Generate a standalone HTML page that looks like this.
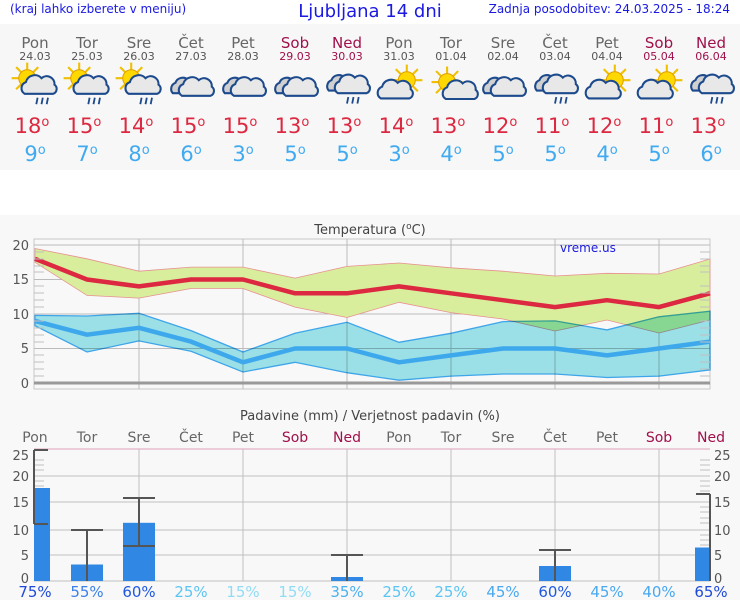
<!DOCTYPE html>
<html><head><meta charset="utf-8"><style>
html,body{margin:0;padding:0;background:#fff}
svg{display:block}
text{font-family:"DejaVu Sans","Liberation Sans",sans-serif}
</style></head><body>
<svg width="740" height="600" viewBox="0 0 740 600" xmlns="http://www.w3.org/2000/svg">
<defs>
<g id="sun"><g stroke="#f0c000" stroke-width="1.6"><line x1="0" y1="-12" x2="0" y2="12"/><line x1="-12" y1="0" x2="12" y2="0"/><line x1="-8.5" y1="-8.5" x2="8.5" y2="8.5"/><line x1="-8.5" y1="8.5" x2="8.5" y2="-8.5"/></g><circle r="6.5" fill="#ffd800" stroke="#e0a000" stroke-width="0.8"/></g>
<g id="cloud"><path d="M-12,6 a5,5 0 0 1 1,-9 a7,7 0 0 1 12,-3 a6,6 0 0 1 10,5 a4,4 0 0 1 -1,7 z" fill="#e8e8e8" stroke="#1c4a8c" stroke-width="1.6"/></g>
<g id="cloud2"><path d="M-15,4 a5,5 0 0 1 2,-8 a6,6 0 0 1 10,-2 l0,10 z" fill="#d0d0d0" stroke="#1c4a8c" stroke-width="1.6"/><use href="#cloud" x="4" y="0"/></g>
<g id="rain" stroke="#1c4a8c" stroke-width="1.4"><line x1="-2" y1="9" x2="-3" y2="14"/><line x1="2" y1="9" x2="1" y2="14"/><line x1="6" y1="9" x2="5" y2="14"/></g>
<g id="i0"><use href="#sun" x="-6" y="-6"/><use href="#cloud" x="4" y="0"/><use href="#rain" x="4" y="0"/></g>
<g id="i1"><use href="#cloud2" x="1" y="0"/></g>
<g id="i2"><use href="#cloud2" x="1" y="-2"/><use href="#rain" x="3" y="-2"/></g>
<g id="i3"><use href="#sun" x="6" y="-6"/><use href="#cloud" x="-2" y="2"/></g>
<g id="i4"><use href="#sun" x="-3" y="-3"/><use href="#cloud" x="8" y="4"/></g>
</defs>
<rect x="0" y="0" width="740" height="600" fill="#fff"/>
<rect x="0" y="24" width="740" height="146" fill="#f7f7f7"/>
<rect x="0" y="215" width="740" height="385" fill="#f8f8f8"/>
<text x="10" y="13" font-size="12" fill="#1a1ae0" font-family="Liberation Sans">(kraj lahko izberete v meniju)</text>
<text x="370" y="17" font-size="18" fill="#1a1ae0" text-anchor="middle" font-family="Liberation Sans">Ljubljana 14 dni</text>
<text x="730" y="13" font-size="12" fill="#1a1ae0" text-anchor="end" font-family="Liberation Sans">Zadnja posodobitev: 24.03.2025 - 18:24</text>

<g font-size="15" text-anchor="middle" fill="#666">
<text x="35" y="48">Pon</text><text x="87" y="48">Tor</text><text x="139" y="48">Sre</text><text x="191" y="48">Čet</text><text x="243" y="48">Pet</text><text x="295" y="48" fill="#a0104a">Sob</text><text x="347" y="48" fill="#a0104a">Ned</text>
<text x="399" y="48">Pon</text><text x="451" y="48">Tor</text><text x="503" y="48">Sre</text><text x="555" y="48">Čet</text><text x="607" y="48">Pet</text><text x="659" y="48" fill="#a0104a">Sob</text><text x="711" y="48" fill="#a0104a">Ned</text>
</g>
<g font-size="11" text-anchor="middle" fill="#555">
<text x="35" y="60">24.03</text><text x="87" y="60">25.03</text><text x="139" y="60">26.03</text><text x="191" y="60">27.03</text><text x="243" y="60">28.03</text><text x="295" y="60" fill="#a0104a">29.03</text><text x="347" y="60" fill="#a0104a">30.03</text>
<text x="399" y="60">31.03</text><text x="451" y="60">01.04</text><text x="503" y="60">02.04</text><text x="555" y="60">03.04</text><text x="607" y="60">04.04</text><text x="659" y="60" fill="#a0104a">05.04</text><text x="711" y="60" fill="#a0104a">06.04</text>
</g>
<!-- icons -->
<use href="#i0" transform="translate(35,86) scale(1.3)"/>
<use href="#i0" transform="translate(87,86) scale(1.3)"/>
<use href="#i0" transform="translate(139,86) scale(1.3)"/>
<use href="#i1" transform="translate(191,88) scale(1.3)"/>
<use href="#i1" transform="translate(243,88) scale(1.3)"/>
<use href="#i1" transform="translate(295,88) scale(1.3)"/>
<use href="#i2" transform="translate(347,88) scale(1.3)"/>
<use href="#i3" transform="translate(399,88) scale(1.3)"/>
<use href="#i4" transform="translate(451,86) scale(1.3)"/>
<use href="#i1" transform="translate(503,88) scale(1.3)"/>
<use href="#i2" transform="translate(555,88) scale(1.3)"/>
<use href="#i3" transform="translate(607,88) scale(1.3)"/>
<use href="#i3" transform="translate(659,88) scale(1.3)"/>
<use href="#i2" transform="translate(711,88) scale(1.3)"/>

<g font-size="21" text-anchor="middle" fill="#dc2840">
<text x="32" y="133">18<tspan font-size="13" dy="-7">o</tspan></text><text x="84" y="133">15<tspan font-size="13" dy="-7">o</tspan></text><text x="136" y="133">14<tspan font-size="13" dy="-7">o</tspan></text><text x="188" y="133">15<tspan font-size="13" dy="-7">o</tspan></text><text x="240" y="133">15<tspan font-size="13" dy="-7">o</tspan></text><text x="292" y="133">13<tspan font-size="13" dy="-7">o</tspan></text><text x="344" y="133">13<tspan font-size="13" dy="-7">o</tspan></text>
<text x="396" y="133">14<tspan font-size="13" dy="-7">o</tspan></text><text x="448" y="133">13<tspan font-size="13" dy="-7">o</tspan></text><text x="500" y="133">12<tspan font-size="13" dy="-7">o</tspan></text><text x="552" y="133">11<tspan font-size="13" dy="-7">o</tspan></text><text x="604" y="133">12<tspan font-size="13" dy="-7">o</tspan></text><text x="656" y="133">11<tspan font-size="13" dy="-7">o</tspan></text><text x="708" y="133">13<tspan font-size="13" dy="-7">o</tspan></text>
</g>
<g font-size="21" text-anchor="middle" fill="#40aaf0">
<text x="35" y="161">9<tspan font-size="13" dy="-7">o</tspan></text><text x="87" y="161">7<tspan font-size="13" dy="-7">o</tspan></text><text x="139" y="161">8<tspan font-size="13" dy="-7">o</tspan></text><text x="191" y="161">6<tspan font-size="13" dy="-7">o</tspan></text><text x="243" y="161">3<tspan font-size="13" dy="-7">o</tspan></text><text x="295" y="161">5<tspan font-size="13" dy="-7">o</tspan></text><text x="347" y="161">5<tspan font-size="13" dy="-7">o</tspan></text>
<text x="399" y="161">3<tspan font-size="13" dy="-7">o</tspan></text><text x="451" y="161">4<tspan font-size="13" dy="-7">o</tspan></text><text x="503" y="161">5<tspan font-size="13" dy="-7">o</tspan></text><text x="555" y="161">5<tspan font-size="13" dy="-7">o</tspan></text><text x="607" y="161">4<tspan font-size="13" dy="-7">o</tspan></text><text x="659" y="161">5<tspan font-size="13" dy="-7">o</tspan></text><text x="711" y="161">6<tspan font-size="13" dy="-7">o</tspan></text>
</g>

<!-- Temperature chart -->
<text x="370" y="234" font-size="13" fill="#444" text-anchor="middle">Temperatura (<tspan font-size="9" dy="-5">o</tspan><tspan dy="5">C)</tspan></text>
<rect x="34" y="239" width="676" height="150" fill="#f8f8f8" stroke="#c8c8c8" stroke-width="1"/>
<g stroke="#bbb" stroke-width="1">
<line x1="34" y1="245" x2="710" y2="245"/><line x1="34" y1="279.5" x2="710" y2="279.5"/><line x1="34" y1="314" x2="710" y2="314"/><line x1="34" y1="348.5" x2="710" y2="348.5"/>
<line x1="139" y1="239" x2="139" y2="389"/><line x1="243" y1="239" x2="243" y2="389"/><line x1="347" y1="239" x2="347" y2="389"/><line x1="451" y1="239" x2="451" y2="389"/><line x1="555" y1="239" x2="555" y2="389"/><line x1="659" y1="239" x2="659" y2="389"/>
</g>
<polygon fill="#d8ee9c" stroke="#e89090" stroke-width="0.8" points="35,248.5 87,258.8 139,271.2 191,267.1 243,267.1 295,278.1 347,266.4 399,263 451,267.8 503,271.2 555,276 607,273.3 659,274 710,259 710,320 659,333 607,320 555,331 503,319 451,312.6 399,302.3 347,317.5 295,307.1 243,288.5 191,288.5 139,298.1 87,295.4 35,262.3"/>
<polygon fill="#9fe6ee" style="mix-blend-mode:multiply" stroke="#40aaf0" stroke-width="1.3" points="35,315.4 87,316 139,313.3 191,330.6 243,352 295,333.3 347,322.3 399,342.3 451,333.3 503,321.6 555,320.9 607,329.9 659,316.8 710,311.2 710,369.9 659,376.1 607,377.5 555,374 503,374 451,376.1 399,380.2 347,372.7 295,362.3 243,372 191,351.3 139,340.9 87,352 35,325.7"/>
<polyline fill="none" stroke="#dc2840" stroke-width="4.5" stroke-linejoin="round" points="35,258.8 87,279.5 139,286.4 191,279.5 243,279.5 295,293.3 347,293.3 399,286.4 451,293.3 503,300.2 555,307.1 607,300.2 659,307.1 710,293.3"/>
<polyline fill="none" stroke="#3ea8ec" stroke-width="4.5" stroke-linejoin="round" points="35,320.9 87,334.7 139,327.8 191,341.6 243,362.3 295,348.5 347,348.5 399,362.3 451,355.4 503,348.5 555,348.5 607,355.4 659,348.5 710,341.6"/>
<line x1="34" y1="383" x2="710" y2="383" stroke="#999" stroke-width="3"/>
<g stroke="#c0c0c0" stroke-width="1">
<path d="M34,252h10M34,259h10M34,266h10M34,272h10M34,286h10M34,293h10M34,300h10M34,307h10M34,321h10M34,328h10M34,335h10M34,342h10M34,355h10M34,362h10M34,369h10M34,376h10"/>
<path d="M700,252h10M700,259h10M700,266h10M700,272h10M700,286h10M700,293h10M700,300h10M700,307h10M700,321h10M700,328h10M700,335h10M700,342h10M700,355h10M700,362h10M700,369h10M700,376h10"/>
</g>
<g font-size="13" fill="#555" text-anchor="end">
<text x="29" y="250">20</text><text x="29" y="284">15</text><text x="29" y="319">10</text><text x="29" y="353">5</text><text x="29" y="388">0</text>
</g>
<text x="560" y="252" font-size="12" fill="#1a1ae0" font-family="Liberation Sans">vreme.us</text>

<!-- Precip chart -->
<text x="370" y="420" font-size="13" fill="#444" text-anchor="middle">Padavine (mm) / Verjetnost padavin (%)</text>
<g font-size="14" text-anchor="middle" fill="#666">
<text x="35" y="442">Pon</text><text x="87" y="442">Tor</text><text x="139" y="442">Sre</text><text x="191" y="442">Čet</text><text x="243" y="442">Pet</text><text x="295" y="442" fill="#a0104a">Sob</text><text x="347" y="442" fill="#a0104a">Ned</text>
<text x="399" y="442">Pon</text><text x="451" y="442">Tor</text><text x="503" y="442">Sre</text><text x="555" y="442">Čet</text><text x="607" y="442">Pet</text><text x="659" y="442" fill="#a0104a">Sob</text><text x="711" y="442" fill="#a0104a">Ned</text>
</g>
<line x1="34" y1="449" x2="710" y2="449" stroke="#e0a0b8" stroke-width="1"/>
<g stroke="#c0c0c0" stroke-width="1">
<line x1="34" y1="476" x2="710" y2="476"/><line x1="34" y1="502" x2="710" y2="502"/><line x1="34" y1="530" x2="710" y2="530"/><line x1="34" y1="555" x2="710" y2="555"/><line x1="34" y1="581" x2="710" y2="581"/>
<line x1="139" y1="449" x2="139" y2="581"/><line x1="243" y1="449" x2="243" y2="581"/><line x1="347" y1="449" x2="347" y2="581"/><line x1="451" y1="449" x2="451" y2="581"/><line x1="555" y1="449" x2="555" y2="581"/><line x1="659" y1="449" x2="659" y2="581"/>
<path d="M34,460h10M34,465h10M34,470h10M34,481h10M34,486h10M700,460h10M700,465h10M700,470h10M700,481h10M700,486h10M700,491h10M700,507h10M700,512h10M700,518h10M700,523h10M700,535h10M700,540h10M700,545h10M700,550h10M700,560h10M700,566h10M700,571h10M700,576h10"/>
</g>
<g fill="#3088e4">
<rect x="34" y="488" width="16" height="93"/>
<rect x="71" y="564.5" width="32" height="16.5"/>
<rect x="123" y="522.8" width="32" height="58.2"/>
<rect x="331" y="577" width="32" height="4"/>
<rect x="539" y="566" width="32" height="15"/>
<rect x="695" y="547.5" width="15" height="33.5"/>
</g>
<g stroke="#555" stroke-width="2" fill="none">
<path d="M34,450v74M34,450h14M34,524h14"/>
<path d="M87,530v51M71,530h32"/>
<path d="M139,498v48M123,498h32M123,546h32"/>
<path d="M347,555v26M331,555h32"/>
<path d="M555,550v31M539,550h32"/>
<path d="M710,494v87M696,494h14"/>
</g>
<g font-size="13" fill="#555" text-anchor="end">
<text x="29" y="460">25</text><text x="29" y="481">20</text><text x="29" y="507">15</text><text x="29" y="535">10</text><text x="29" y="560">5</text><text x="29" y="583">0</text>
</g>
<g font-size="13" fill="#555" text-anchor="start">
<text x="714" y="460">25</text><text x="714" y="481">20</text><text x="714" y="507">15</text><text x="714" y="535">10</text><text x="714" y="560">5</text><text x="714" y="583">0</text>
</g>
<g font-size="15" text-anchor="middle">
<text x="35" y="597" fill="#1f4ad8">75%</text><text x="87" y="597" fill="#3c80e8">55%</text><text x="139" y="597" fill="#1f58e0">60%</text><text x="191" y="597" fill="#5cc4f2">25%</text><text x="243" y="597" fill="#90dcf5">15%</text><text x="295" y="597" fill="#90dcf5">15%</text><text x="347" y="597" fill="#4cb0f0">35%</text>
<text x="399" y="597" fill="#5cc4f2">25%</text><text x="451" y="597" fill="#5cc4f2">25%</text><text x="503" y="597" fill="#48a8f0">45%</text><text x="555" y="597" fill="#1f58e0">60%</text><text x="607" y="597" fill="#48a8f0">45%</text><text x="659" y="597" fill="#48a8f0">40%</text><text x="711" y="597" fill="#1f4ad8">65%</text>
</g>
</svg>
</body></html>
